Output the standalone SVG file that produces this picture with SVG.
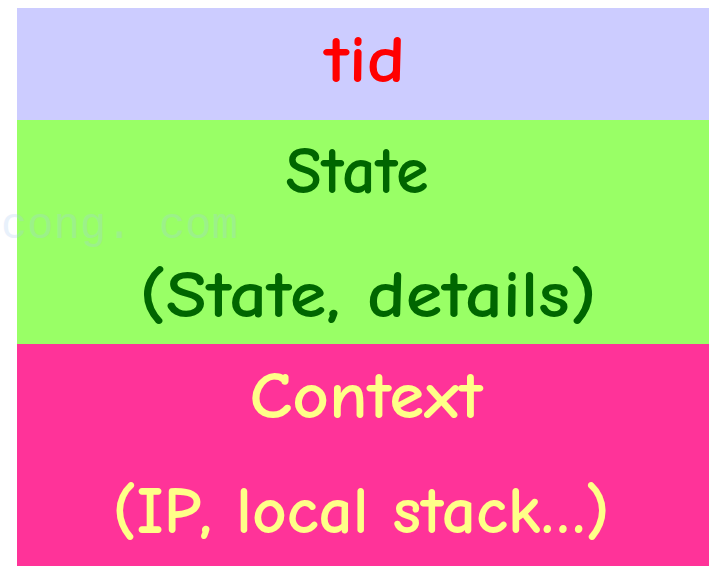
<svg xmlns="http://www.w3.org/2000/svg" width="709" height="566" viewBox="0 0 709 566">
  <style>
    .t { font-family: "Comic Sans MS", "Comic Neue", "DejaVu Sans", "Liberation Sans", sans-serif; font-size: 66px; font-weight: bold; text-anchor: middle; }
    .red { fill: #ff0000; }
    .green { fill: #006600; }
    .yellow { fill: #ffff88; }
    .wm { font-family: "Liberation Mono", "DejaVu Sans Mono", monospace; font-size: 44px; fill: #a8c8f0; opacity: 0.25; }
  </style>
  <rect width="709" height="566" fill="#ffffff"/>
  <g id="tid">
    <rect x="17" y="8" width="692" height="112" fill="#ccccff"/>
    <text class="t red" x="365" y="82" textLength="81" lengthAdjust="spacingAndGlyphs">tid</text>
  </g>
  <g id="state">
    <rect x="17" y="120" width="692" height="224" fill="#99ff66"/>
    <text class="t green" x="357" y="193" textLength="143" lengthAdjust="spacingAndGlyphs">State</text>
    <text class="t green" x="368" y="317" textLength="457" lengthAdjust="spacingAndGlyphs">(State, details)</text>
  </g>
  <g id="context">
    <rect x="17" y="344" width="692" height="222" fill="#ff3399"/>
    <text class="t yellow" x="366" y="418" textLength="233" lengthAdjust="spacingAndGlyphs">Context</text>
    <text class="t yellow" x="361" y="533" textLength="497" lengthAdjust="spacingAndGlyphs">(IP, local stack…)</text>
  </g>
  <text class="wm" x="1" y="238" textLength="237" lengthAdjust="spacingAndGlyphs">cong. com</text>
</svg>
